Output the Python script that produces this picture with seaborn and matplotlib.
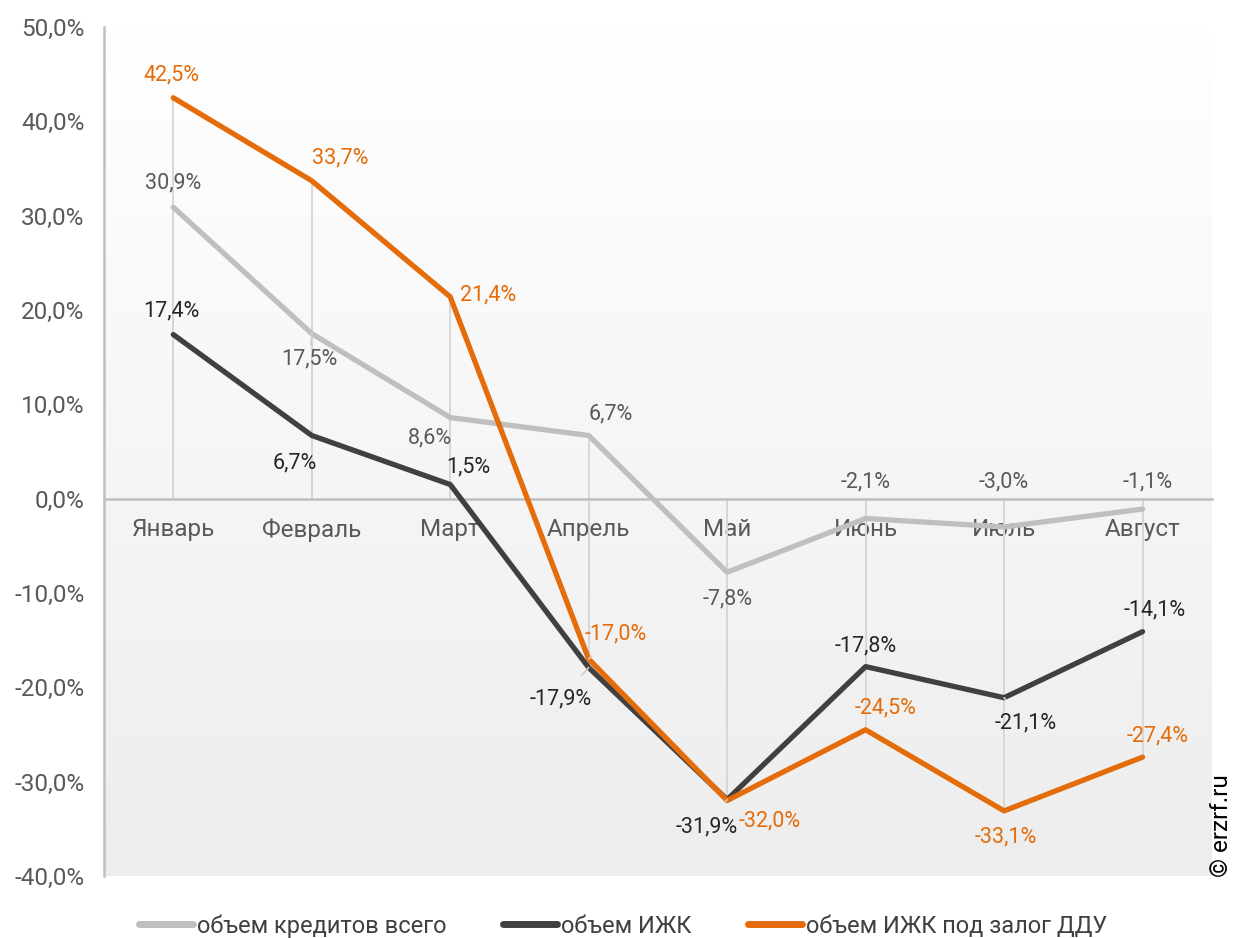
import numpy as np
import pandas as pd
import matplotlib
matplotlib.use("Agg")
import matplotlib.pyplot as plt
import seaborn as sns
from matplotlib.ticker import FuncFormatter, MultipleLocator, FixedLocator
from matplotlib.lines import Line2D

# Данные
months = ["Январь", "Февраль", "Март", "Апрель", "Май", "Июнь", "Июль", "Август"]
total = [30.9, 17.5, 8.6, 6.7, -7.8, -2.1, -3.0, -1.1]
izhk = [17.4, 6.7, 1.5, -17.9, -31.9, -17.8, -21.1, -14.1]
izhk_ddu = [42.5, 33.7, 21.4, -17.0, -32.0, -24.5, -33.1, -27.4]
names = ["объем кредитов всего", "объем ИЖК", "объем ИЖК под залог ДДУ"]

colors = ["#BFBFBF", "#404040", "#E46C0A"]
label_colors = ["#595959", "#262626", "#E46C0A"]

# смещения подписей (пиксели)
offsets = [
    [(0, 24), (-2, -25), (-20, -20), (22, 22), (0, -27), (0, 37), (0, 45), (5, 27)],
    [(-2, 24), (-17, -27), (18, 18), (-28, -31), (-20, -27), (0, 21), (22, -25), (12, 22)],
    [(-2, 23), (28, 23), (38, 2), (27, 25), (43, -20), (20, 22), (2, -26), (15, 21)],
]
# подписи с выносками: (ряд, индекс)
leaders = [(0, 1), (1, 3), (2, 3), (1, 4), (1, 6)]

series = [total, izhk, izhk_ddu]
df = pd.DataFrame({
    "pos": list(range(len(months))) * 3,
    "value": total + izhk + izhk_ddu,
    "series": [n for n in names for _ in months],
})

sns.set_style("white")
plt.rcParams["font.family"] = ["Roboto", "DejaVu Sans"]

fig = plt.figure(figsize=(12.34, 9.38), dpi=100)
ax = fig.add_axes([0.0843, 0.0661, 0.8977, 0.9051])

# градиентный фон области построения
grad = np.linspace(0, 1, 256).reshape(-1, 1)
cmap = matplotlib.colors.LinearSegmentedColormap.from_list("bg", ["#FFFFFF", "#EDEDED"])
ax.imshow(grad, extent=[0, 1, 0, 1], transform=ax.transAxes, aspect="auto",
          cmap=cmap, vmin=0, vmax=1, zorder=0, origin="upper")

# линии проекции
for vals in series:
    ax.vlines(range(len(months)), 0, vals, color="#D6D6D6", linewidth=1.3, zorder=1)

sns.lineplot(data=df, x="pos", y="value", hue="series", palette=dict(zip(names, colors)),
             linewidth=3.8, legend=False, ax=ax, zorder=3, sort=False)

def fmt(v):
    return f"{v:.1f}%".replace(".", ",")

for k, (vals, offs, c) in enumerate(zip(series, offsets, label_colors)):
    for i, (v, o) in enumerate(zip(vals, offs)):
        arrow = None
        if (k, i) in leaders:
            arrow = dict(arrowstyle="-", color="#D0D0D0", lw=1.2, shrinkA=9, shrinkB=0)
        ax.annotate(fmt(v), (i, v), xytext=o, textcoords="offset pixels",
                    ha="center", va="center", fontsize=15.5, color=c, zorder=5,
                    arrowprops=arrow)

ax.set_xlim(-0.5, len(months) - 0.5)
ax.set_ylim(-40, 50)
ax.yaxis.set_major_locator(MultipleLocator(10))
ax.yaxis.set_major_formatter(FuncFormatter(lambda v, p: fmt(v)))
ax.xaxis.set_major_locator(FixedLocator(range(len(months))))
ax.set_xticklabels(months)
ax.xaxis.set_minor_locator(FixedLocator(np.arange(-0.5, len(months), 1)))
ax.tick_params(axis="x", which="major", length=0, pad=14, labelsize=17.5, labelcolor="#595959")
ax.tick_params(axis="x", which="minor", length=6, width=1.5, color="#BFBFBF", direction="out")
ax.tick_params(axis="y", length=6, width=1.5, color="#BFBFBF", labelsize=17.5,
               labelcolor="#595959", pad=8)
ax.set_xlabel("")
ax.set_ylabel("")

for s in ["top", "right"]:
    ax.spines[s].set_visible(False)
ax.spines["bottom"].set_position(("data", 0))
ax.spines["bottom"].set_color("#BFBFBF")
ax.spines["bottom"].set_linewidth(1.8)
ax.spines["bottom"].set_zorder(2)
ax.spines["left"].set_color("#BFBFBF")
ax.spines["left"].set_linewidth(1.8)

handles = [Line2D([0], [0], color=c, linewidth=5, solid_capstyle="round") for c in colors]
fig.legend(handles, names, loc="center", bbox_to_anchor=(0.505, 0.013), ncol=3,
           frameon=False, fontsize=17, handlelength=2.3, handletextpad=0.15,
           columnspacing=2.4, labelcolor="#404040", borderpad=0)

fig.text(0.999, 0.065, "© erzrf.ru", rotation=90, ha="right", va="bottom",
         fontsize=17.5, color="#000000")

fig.savefig("out.png", dpi=100)
